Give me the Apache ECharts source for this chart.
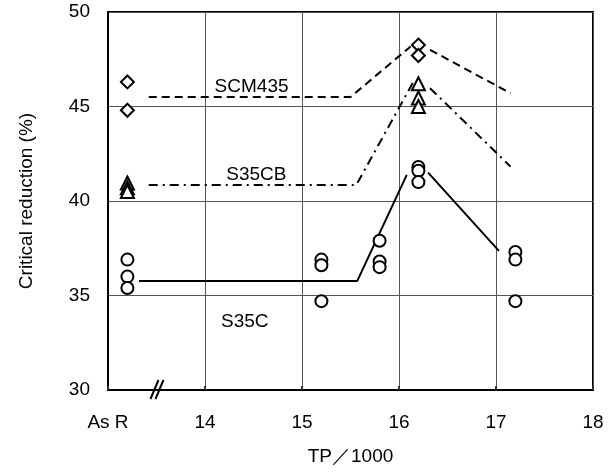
<!DOCTYPE html>
<html>
<head>
<meta charset="utf-8">
<script src="https://cdn.jsdelivr.net/npm/echarts@6/dist/echarts.min.js"></script>
<style>
  html, body { margin: 0; padding: 0; background: #fff; }
  #chart { width: 614px; height: 472px; }
</style>
</head>
<body>
<div id="chart"></div>
<script>
// x = TP/1000, 13 stands for "As R"
const xTicks = [13, 14, 15, 16, 17, 18]
const yTicks = [30, 35, 40, 45, 50]

// measured points [TP/1000, critical reduction %]
const scm435Points = [[13.2, 46.3], [13.2, 44.8], [16.2, 48.25], [16.2, 47.7]]
const s35cbPoints = [[13.2, 40.95], [13.2, 40.7], [13.2, 40.5], [16.2, 46.2], [16.2, 45.45], [16.2, 45.0]]
const s35cPoints = [
  [13.2, 36.9], [13.2, 36.0], [13.2, 35.4],
  [15.2, 36.9], [15.2, 36.6], [15.2, 34.7],
  [15.8, 37.9], [15.8, 36.8], [15.8, 36.5],
  [16.2, 41.8], [16.2, 41.6], [16.2, 41.0],
  [17.2, 37.3], [17.2, 36.9], [17.2, 34.7]
]

// hand drawn trend lines (null = gap around the markers)
const scm435Line = [[13.42, 45.5], [15.5, 45.5], [16.12, 48.18], null, [16.32, 48.0], [17.15, 45.7]]
const s35cbLine = [[13.42, 40.85], [15.56, 40.85], [16.15, 46.32], null, [16.32, 45.97], [17.15, 41.82]]
const s35cLine = [[13.32, 35.77], [15.57, 35.77], [16.08, 41.38], null, [16.3, 41.5], [17.03, 37.36]]

const labels = [
  { text: 'SCM435', at: [14.48, 46.04] },
  { text: 'S35CB', at: [14.53, 41.39] },
  { text: 'S35C', at: [14.41, 33.6] }
]

const font = 'Liberation Sans'
const fs = 19
const myEcharts = echarts.init(document.getElementById('chart'))

const markerStyle = { color: '#fff', borderColor: '#000', borderWidth: 2, opacity: 1 }

const lineSeries = (data, type) => ({
  type: 'line',
  data: data,
  showSymbol: false,
  connectNulls: false,
  silent: true,
  z: 2,
  lineStyle: { color: '#000', width: 2, type: type }
})

const pointSeries = (data, symbol, size) => ({
  type: 'scatter',
  data: data,
  symbol: symbol,
  symbolSize: size,
  itemStyle: markerStyle,
  z: 3
})

const option = {
  animation: false,
  backgroundColor: '#fff',
  grid: {
    left: 108, right: 21, top: 12, bottom: 82,
    show: true, borderColor: '#000', borderWidth: 2
  },
  xAxis: {
    type: 'value',
    min: xTicks[0],
    max: xTicks[xTicks.length - 1],
    interval: 1,
    name: 'TP／1000',
    nameLocation: 'middle',
    nameGap: 57,
    nameTextStyle: { fontFamily: font, fontSize: fs, color: '#000' },
    axisLine: { show: true, lineStyle: { color: '#000', width: 2 } },
    axisTick: { show: true, inside: true, length: 4, lineStyle: { color: '#333', width: 2 } },
    axisLabel: {
      margin: 23,
      fontFamily: font, fontSize: fs, color: '#000',
      formatter: v => (v === 13 ? 'As R' : String(v))
    },
    splitLine: { show: true, lineStyle: { color: '#555', width: 1 } }
  },
  yAxis: {
    type: 'value',
    min: yTicks[0],
    max: yTicks[yTicks.length - 1],
    interval: 5,
    name: 'Critical reduction (%)',
    nameLocation: 'middle',
    nameGap: 72,
    nameTextStyle: { fontFamily: font, fontSize: fs, color: '#000' },
    axisLine: { show: true, lineStyle: { color: '#000', width: 2 } },
    axisTick: { show: false },
    axisLabel: { margin: 18, fontFamily: font, fontSize: fs, color: '#000' },
    splitLine: { show: true, lineStyle: { color: '#555', width: 1 } }
  },
  series: [
    lineSeries(scm435Line, [8, 5]),
    lineSeries(s35cbLine, [9, 5, 2, 5]),
    lineSeries(s35cLine, 'solid'),
    pointSeries(scm435Points, 'diamond', 13),
    pointSeries(s35cbPoints, 'triangle', 13),
    pointSeries(s35cPoints, 'circle', 12)
  ]
}

myEcharts.setOption(option)

// text labels and the axis break mark, placed through the axes
const graphics = labels.map(l => {
  const p = myEcharts.convertToPixel({ gridIndex: 0 }, l.at)
  return {
    type: 'text', x: p[0], y: p[1], z: 10,
    style: { text: l.text, fontFamily: font, fontSize: fs, fill: '#000', align: 'center', verticalAlign: 'middle' }
  }
})
const b = myEcharts.convertToPixel({ gridIndex: 0 }, [13.51, 30])
graphics.push(
  { type: 'line', z: 10, shape: { x1: b[0] - 7, y1: b[1] + 9, x2: b[0] + 1, y2: b[1] - 10 }, style: { stroke: '#000', lineWidth: 2 } },
  { type: 'line', z: 10, shape: { x1: b[0] - 2, y1: b[1] + 9, x2: b[0] + 6, y2: b[1] - 10 }, style: { stroke: '#000', lineWidth: 2 } }
)
myEcharts.setOption({ graphic: graphics })
</script>
</body>
</html>
